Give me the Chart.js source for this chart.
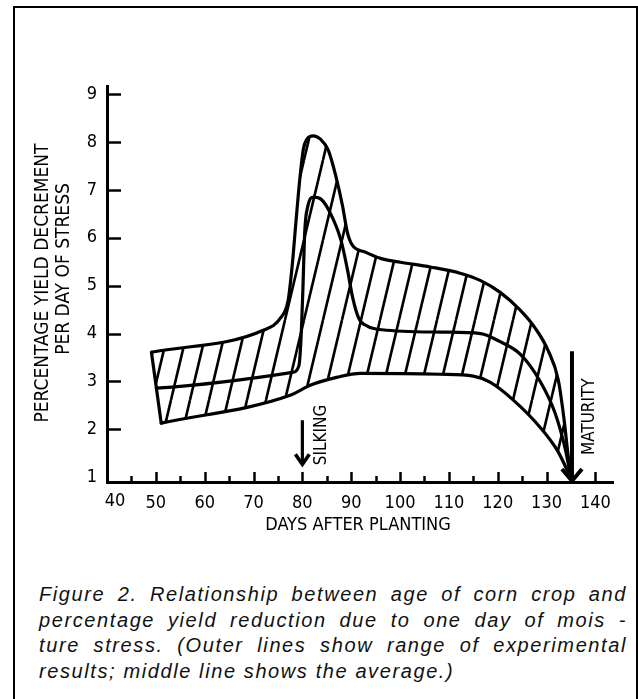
<!DOCTYPE html>
<html>
<head>
<meta charset="utf-8">
<script src="https://cdn.jsdelivr.net/npm/chart.js@4.4.1/dist/chart.umd.min.js"></script>
<style>
  html, body { margin: 0; padding: 0; background: #fff; width: 638px; height: 699px; overflow: hidden; }
  #frame { position: absolute; left: 13px; top: 6px; width: 621px; height: 760px; border: 2px solid #000; border-bottom: none; }
  #wrap { position: absolute; left: 0; top: 0; width: 638px; height: 560px; }
  #caption { position: absolute; left: 39px; top: 582px; width: 588px; color: #111;
             font: italic 20px 'Liberation Sans', Arial, sans-serif; line-height: 25.5px; letter-spacing: 1.6px; }
  #caption div { text-align: justify; text-align-last: justify; }
  #caption div.last { text-align: left; text-align-last: left; }
</style>
</head>
<body>
<div id="frame"></div>
<div id="wrap"><canvas id="c"></canvas></div>
<div id="caption">
  <div>Figure 2. Relationship between age of corn crop and</div>
  <div>percentage yield reduction due to one day of mois -</div>
  <div>ture stress. (Outer lines show range of experimental</div>
  <div class="last">results; middle line shows the average.)</div>
</div>
<script>
// ---- data ----
const xTickValues = [40, 50, 60, 70, 80, 90, 100, 110, 120, 130, 140];
const yTickValues = [1, 2, 3, 4, 5, 6, 7, 8, 9];

const upperDays = [49.1, 72.0, 75.5, 77.1, 77.9, 78.7, 79.5, 80.2, 81.0, 82.2, 83.7, 85.3, 86.8, 88.2, 89.2, 90.2, 92.9, 96.0, 100.1, 106.2, 112.3, 116.4, 120.5, 124.6, 127.7, 130.3, 132.4, 133.6, 134.4, 135.0];
const upperPct  = [3.61, 4.07, 4.32, 4.70, 5.40, 6.35, 7.25, 7.85, 8.07, 8.13, 8.06, 7.83, 7.31, 6.68, 6.12, 5.85, 5.70, 5.57, 5.49, 5.39, 5.26, 5.11, 4.86, 4.49, 4.11, 3.65, 3.03, 2.19, 1.46, 0.98];

const middleDays = [50.1, 78.0, 79.3, 79.7, 80.1, 80.5, 81.1, 82.3, 83.9, 85.8, 87.9, 89.2, 90.3, 91.5, 93.4, 96.3, 108.5, 116.5, 120.5, 124.6, 128.7, 131.7, 133.8, 135.0];
const middlePct  = [2.86, 3.19, 3.33, 3.85, 4.90, 6.15, 6.65, 6.85, 6.80, 6.50, 5.95, 5.35, 4.75, 4.33, 4.15, 4.08, 4.03, 4.00, 3.83, 3.57, 3.00, 2.35, 1.60, 0.98];

const lowerDays = [51.1, 77.5, 81.6, 87.2, 91.9, 108.2, 115.0, 118.5, 123.2, 128.7, 132.2, 135.0];
const lowerPct  = [2.13, 2.71, 2.92, 3.09, 3.17, 3.15, 3.11, 2.98, 2.61, 2.04, 1.56, 0.98];

const markerLabels = ['SILKING', 'MATURITY'];
const markerDays   = [80, 135.2];
const markerTop    = [2.19, 3.63];
const markerTip    = [1.25, 0.9];

const xTitle = 'DAYS AFTER PLANTING';
const yTitleLines = ['PERCENTAGE YIELD DECREMENT', 'PER DAY OF STRESS'];

// ---- styling ----
const COND = "'Liberation Sans Narrow', 'DejaVu Sans Condensed', 'Liberation Sans', sans-serif";
const toXY = (xs, ys) => xs.map((x, i) => ({x, y: ys[i]}));

function makeHatch() {
  const s = 19, h = 80;
  const c = document.createElement('canvas');
  c.width = s; c.height = h;
  const g = c.getContext('2d');
  g.strokeStyle = '#000'; g.lineWidth = 2.6;
  for (const off of [-s, 0, s]) {
    g.beginPath(); g.moveTo(off, h); g.lineTo(off + s, 0); g.stroke();
  }
  return g.createPattern(c, 'repeat');
}

const lineStyle = {
  borderColor: '#000', borderWidth: 3.2, pointRadius: 0, fill: false,
  cubicInterpolationMode: 'monotone', borderCapStyle: 'round', borderJoinStyle: 'round'
};

const bandPlugin = {
  id: 'band',
  beforeDatasetsDraw(chart) {
    const ctx = chart.ctx;
    const up = chart.getDatasetMeta(0).dataset;
    const lo = chart.getDatasetMeta(2).dataset;
    up.updateControlPoints(chart.chartArea, 'x');
    lo.updateControlPoints(chart.chartArea, 'x');
    ctx.save();
    ctx.beginPath();
    up.path(ctx);
    lo.pathSegment(ctx, lo.segments[0], {move: false, reverse: true});
    ctx.closePath();
    ctx.fillStyle = makeHatch();
    ctx.fill();
    ctx.restore();
  }
};

const decorPlugin = {
  id: 'decor',
  afterDatasetsDraw(chart) {
    const ctx = chart.ctx;
    const xs = chart.scales.x, ys = chart.scales.y;
    const a = chart.chartArea;
    ctx.save();
    ctx.strokeStyle = '#000'; ctx.fillStyle = '#000';
    // x tick marks (inward)
    ctx.lineWidth = 2.5;
    for (let v = 45; v <= 140; v += 5) {
      const px = Math.round(xs.getPixelForValue(v)) + 0.5;
      const len = v % 10 === 0 ? 10 : 6;
      ctx.beginPath(); ctx.moveTo(px, a.bottom); ctx.lineTo(px, a.bottom - len); ctx.stroke();
    }
    // y tick marks (inward)
    for (let v = 2; v <= 9; v++) {
      const py = Math.round(ys.getPixelForValue(v)) + 0.5;
      ctx.beginPath(); ctx.moveTo(a.left, py); ctx.lineTo(a.left + 14, py); ctx.stroke();
    }
    // first x label, offset right of the corner as in the reference
    ctx.font = '18px ' + COND;
    ctx.textAlign = 'center'; ctx.textBaseline = 'middle';
    ctx.fillText(String(xTickValues[0]), xs.getPixelForValue(xTickValues[0]) + 8, a.bottom + 19);
    // axis titles
    ctx.font = '18px ' + COND;
    ctx.fillText(xTitle, (a.left + a.right) / 2 - 2, a.bottom + 43);
    ctx.save();
    ctx.translate(43, 283);
    ctx.rotate(-Math.PI / 2);
    ctx.font = '19px ' + COND;
    ctx.fillText(yTitleLines[0], 0, 0);
    ctx.restore();
    ctx.save();
    ctx.translate(64, 269);
    ctx.rotate(-Math.PI / 2);
    ctx.font = '19px ' + COND;
    ctx.fillText(yTitleLines[1], 0, 0);
    ctx.restore();
    // marker arrows
    markerLabels.forEach((lab, i) => {
      const px = xs.getPixelForValue(markerDays[i]);
      const top = ys.getPixelForValue(markerTop[i]);
      const tip = Math.min(ys.getPixelForValue(markerTip[i]), a.bottom);
      const big = i === 1;
      ctx.lineWidth = big ? 4 : 3.2;
      ctx.lineCap = 'butt';
      ctx.beginPath(); ctx.moveTo(px, top); ctx.lineTo(px, tip - 2); ctx.stroke();
      const hw = big ? 10 : 7, hh = big ? 13 : 11;
      ctx.lineWidth = big ? 4 : 3.6;
      ctx.lineJoin = 'miter';
      ctx.beginPath(); ctx.moveTo(px - hw, tip - hh); ctx.lineTo(px, tip - 1); ctx.lineTo(px + hw, tip - hh); ctx.stroke();
      ctx.save();
      ctx.font = '17px ' + COND;
      ctx.textAlign = 'left'; ctx.textBaseline = 'middle';
      ctx.translate(px + (big ? 18 : 19), tip - (big ? 27 : 0));
      ctx.rotate(-Math.PI / 2);
      ctx.fillText(lab, 0, 0);
      ctx.restore();
    });
    ctx.restore();
  }
};

new Chart(document.getElementById('c'), {
  type: 'line',
  data: {
    datasets: [
      Object.assign({label: 'upper', data: toXY(upperDays, upperPct)}, lineStyle),
      Object.assign({label: 'average', data: toXY(middleDays, middlePct)}, lineStyle),
      Object.assign({label: 'lower', data: toXY(lowerDays, lowerPct)}, lineStyle),
      Object.assign({label: 'edge', data: [{x: upperDays[0], y: upperPct[0]}, {x: lowerDays[0], y: lowerPct[0]}]}, lineStyle, {cubicInterpolationMode: 'default', tension: 0})
    ]
  },
  options: {
    responsive: true, maintainAspectRatio: false, animation: false, events: [],
    layout: {padding: {top: 86, right: 25, left: 0, bottom: 0}},
    plugins: {legend: {display: false}, tooltip: {enabled: false}},
    scales: {
      x: {
        type: 'linear', min: 40, max: 143.6,
        afterFit(s) { s.height = 78; },
        grid: {display: false, drawTicks: false},
        border: {display: true, color: '#000', width: 3},
        ticks: {
          stepSize: 10, includeBounds: false, color: '#000', padding: 11, maxRotation: 0, autoSkip: false,
          font: {family: COND, size: 18},
          callback: v => (xTickValues.includes(v) && v !== xTickValues[0]) ? String(v) : ''
        }
      },
      y: {
        type: 'linear', min: 0.9, max: 9.17,
        afterFit(s) { s.width = 107; },
        grid: {display: false, drawTicks: false},
        border: {display: true, color: '#000', width: 3},
        ticks: {
          stepSize: 1, includeBounds: false, color: '#000', padding: 10,
          font: {family: COND, size: 18},
          callback: v => yTickValues.includes(v) ? String(v) : ''
        }
      }
    }
  },
  plugins: [bandPlugin, decorPlugin]
});
</script>
</body>
</html>
